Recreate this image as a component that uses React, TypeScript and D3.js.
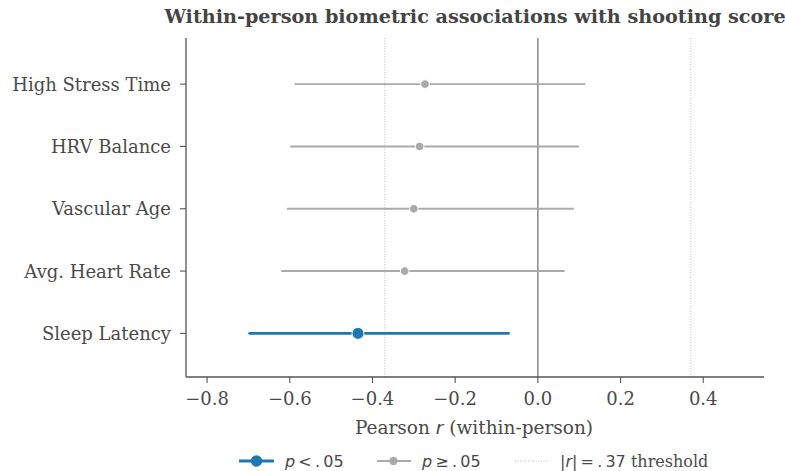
import React from "react";
import * as d3 from "d3";

const categories = ["Sleep Latency", "Avg. Heart Rate", "Vascular Age", "HRV Balance", "High Stress Time"];
const rValues = [-0.435, -0.322, -0.30, -0.286, -0.273];
const ciLow = [-0.697, -0.619, -0.605, -0.597, -0.587];
const ciHigh = [-0.071, 0.063, 0.085, 0.098, 0.113];
const significant = [true, false, false, false, false];
const xTicks = [-0.8, -0.6, -0.4, -0.2, 0.0, 0.2, 0.4];
const threshold = 0.37;

const W = 785, H = 471;
const left = 186, right = 764, top = 38, bottom = 377;
const BLUE = "#1f77b4";
const GRAY = "#aaaaaa";
const TEXT = "#4a4a4a";
const SERIF = "'DejaVu Serif', serif";
const SANS = "'DejaVu Sans', sans-serif";

export default function App() {
  const x = d3.scaleLinear().domain([-0.851, 0.547]).range([left, right]);
  const y = d3.scaleLinear().domain([-0.7, 4.74]).range([bottom, top]);
  return (
    <svg width={W} height={H} style={{ position: "absolute", left: 0, top: 0, background: "#fff" }}>
      <text x={475} y={23} textAnchor="middle" fontFamily={SERIF} fontWeight="bold" fontSize={19.2} fill="#444">
        Within-person biometric associations with shooting score
      </text>
      {[-threshold, threshold].map((t) => (
        <line key={t} x1={x(t)} x2={x(t)} y1={top} y2={bottom} stroke="#aaaaaa" strokeWidth={0.8} strokeDasharray="1,1.6" />
      ))}
      <line x1={x(0)} x2={x(0)} y1={top} y2={bottom} stroke="#888" strokeWidth={1.5} />
      {categories.map((c, i) => {
        const col = significant[i] ? BLUE : GRAY;
        return (
          <g key={c}>
            <line x1={x(ciLow[i])} x2={x(ciHigh[i])} y1={y(i)} y2={y(i)} stroke={col} strokeWidth={significant[i] ? 2.8 : 1.9} strokeLinecap="round" />
            <circle cx={x(rValues[i])} cy={y(i)} r={significant[i] ? 6 : 4.3} fill={col} stroke="#fff" strokeWidth={1} />
          </g>
        );
      })}
      {/* spines */}
      <line x1={left} x2={left} y1={top} y2={bottom} stroke="#555" strokeWidth={1.3} />
      <line x1={left} x2={right} y1={bottom} y2={bottom} stroke="#555" strokeWidth={1.3} />
      {xTicks.map((t) => (
        <g key={t}>
          <line x1={x(t)} x2={x(t)} y1={bottom} y2={bottom + 6} stroke="#555" strokeWidth={1.1} />
          <text x={x(t)} y={bottom + 28} textAnchor="middle" fontFamily={SERIF} fontSize={18} fill={TEXT}>
            {t < 0 ? "\u2212" + Math.abs(t).toFixed(1) : t.toFixed(1)}
          </text>
        </g>
      ))}
      {categories.map((c, i) => (
        <g key={c}>
          <line x1={left - 6} x2={left} y1={y(i)} y2={y(i)} stroke="#555" strokeWidth={1.1} />
          <text x={left - 15} y={y(i) + 6.5} textAnchor="end" fontFamily={SERIF} fontSize={18} fill={TEXT}>{c}</text>
        </g>
      ))}
      <text x={474} y={434} textAnchor="middle" fontFamily={SERIF} fontSize={18.5} fill={TEXT}>
        Pearson <tspan fontStyle="italic" fontFamily={SANS}>r</tspan> (within-person)
      </text>
      {/* legend */}
      <g>
        <line x1={239} x2={274} y1={461} y2={461} stroke={BLUE} strokeWidth={2.8} />
        <circle cx={256.5} cy={461} r={5.7} fill={BLUE} />
        <text x={285} y={467} fontFamily={SANS} fontSize={16} fill={TEXT}>
          <tspan fontStyle="italic">p</tspan>{"\u2009<\u2009.\u200905"}
        </text>
        <line x1={377} x2={411} y1={461} y2={461} stroke={GRAY} strokeWidth={1.9} />
        <circle cx={393.5} cy={461} r={4.2} fill={GRAY} />
        <text x={422} y={467} fontFamily={SANS} fontSize={16} fill={TEXT}>
          <tspan fontStyle="italic">p</tspan>{"\u2009\u2265\u2009.\u200905"}
        </text>
        <line x1={515} x2={547} y1={461} y2={461} stroke="#aaaaaa" strokeWidth={0.8} strokeDasharray="1,1.6" />
        <text x={560} y={467} fontFamily={SANS} fontSize={16} fill={TEXT}>
          |<tspan fontStyle="italic">r</tspan>|{"\u2009=\u2009.\u200937 "}
          <tspan fontFamily={SERIF}>threshold</tspan>
        </text>
      </g>
    </svg>
  );
}
